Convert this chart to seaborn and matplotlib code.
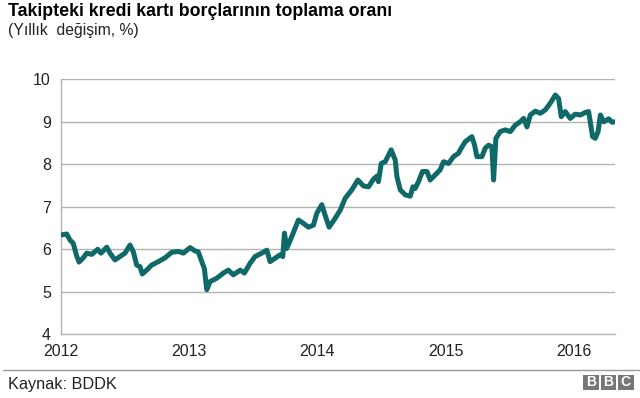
import numpy as np
import pandas as pd
import seaborn as sns
import matplotlib.pyplot as plt
from matplotlib.patches import Rectangle

# Weekly-ish readings of the series, x in decimal years
years = [
    2012.008, 2012.047, 2012.072, 2012.098, 2012.125, 2012.143, 2012.176, 2012.203,
    2012.242, 2012.288, 2012.314, 2012.359, 2012.384, 2012.423, 2012.462, 2012.501,
    2012.540, 2012.566, 2012.592, 2012.618, 2012.636, 2012.670, 2012.709, 2012.761,
    2012.813, 2012.865, 2012.917, 2012.956, 2013.008, 2013.047, 2013.072, 2013.099,
    2013.119, 2013.138, 2013.164, 2013.216, 2013.267, 2013.306, 2013.345, 2013.398,
    2013.431, 2013.475, 2013.514, 2013.567, 2013.606, 2013.631, 2013.670, 2013.709,
    2013.730, 2013.743, 2013.761, 2013.800, 2013.852, 2013.891, 2013.930, 2013.969,
    2013.995, 2014.034, 2014.060, 2014.091, 2014.138, 2014.177, 2014.216, 2014.268,
    2014.315, 2014.359, 2014.398, 2014.436, 2014.463, 2014.475, 2014.497, 2014.528,
    2014.541, 2014.574, 2014.606, 2014.619, 2014.645, 2014.684, 2014.723, 2014.744,
    2014.761, 2014.787, 2014.818, 2014.853, 2014.878, 2014.917, 2014.956, 2014.982,
    2015.021, 2015.060, 2015.099, 2015.112, 2015.151, 2015.203, 2015.224, 2015.242,
    2015.281, 2015.307, 2015.333, 2015.359, 2015.372, 2015.390, 2015.424, 2015.463,
    2015.502, 2015.541, 2015.580, 2015.606, 2015.632, 2015.658, 2015.697, 2015.736,
    2015.775, 2015.814, 2015.853, 2015.878, 2015.899, 2015.930, 2015.969, 2016.008,
    2016.048, 2016.087, 2016.112, 2016.125, 2016.143, 2016.164, 2016.186, 2016.204,
    2016.230, 2016.269, 2016.295, 2016.320,
]
rates = [
    6.34, 6.36, 6.22, 6.14, 5.84, 5.70, 5.80, 5.91,
    5.88, 6.00, 5.91, 6.05, 5.91, 5.75, 5.83, 5.91,
    6.10, 5.94, 5.63, 5.59, 5.42, 5.51, 5.63, 5.71,
    5.80, 5.93, 5.95, 5.91, 6.04, 5.96, 5.94, 5.71,
    5.55, 5.05, 5.24, 5.32, 5.44, 5.51, 5.40, 5.51,
    5.44, 5.67, 5.83, 5.91, 5.98, 5.71, 5.79, 5.87,
    5.83, 6.38, 6.02, 6.30, 6.69, 6.61, 6.52, 6.57,
    6.85, 7.05, 6.80, 6.52, 6.73, 6.92, 7.20, 7.40,
    7.63, 7.49, 7.47, 7.65, 7.72, 7.59, 8.02, 8.06,
    8.14, 8.34, 8.10, 7.71, 7.40, 7.28, 7.25, 7.47,
    7.43, 7.59, 7.83, 7.83, 7.63, 7.75, 7.87, 8.06,
    8.02, 8.18, 8.26, 8.34, 8.53, 8.65, 8.45, 8.18,
    8.18, 8.38, 8.45, 8.41, 7.63, 8.61, 8.77, 8.81,
    8.77, 8.92, 9.00, 9.08, 8.88, 9.16, 9.25, 9.20,
    9.28, 9.44, 9.63, 9.55, 9.12, 9.24, 9.08, 9.18,
    9.16, 9.22, 9.24, 9.00, 8.65, 8.61, 8.77, 9.16,
    9.00, 9.07, 8.99, 9.00,
]
year_ticks = [2012, 2013, 2014, 2015, 2016]
value_ticks = [4, 5, 6, 7, 8, 9, 10]

title = "Takipteki kredi kartı borçlarının toplama oranı"
subtitle = "(Yıllık  değişim, %)"
source = "Kaynak: BDDK"

df = pd.DataFrame({"year": years, "rate": rates})

sns.set_style("white")
plt.rcParams['font.family'] = ['Liberation Sans', 'DejaVu Sans']

fig = plt.figure(figsize=(6.4, 3.98), dpi=100)
ax = fig.add_axes([0.0948, 0.160, 0.8666, 0.6408])

grey = "#b3b3b3"
for v in value_ticks[1:]:
    ax.axhline(v, color=grey, lw=1.0, zorder=1)

sns.lineplot(data=df, x="year", y="rate", ax=ax, color="#0f6969",
             lw=3.6, zorder=3, sort=False,
             solid_joinstyle="round", solid_capstyle="round")

ax.set_xlim(2012, 2016.32)
ax.set_ylim(4, 10)
ax.set_xticks(year_ticks)
ax.set_yticks(value_ticks)
ax.set_xlabel("")
ax.set_ylabel("")
ax.tick_params(axis="both", direction="out", length=4, width=1, color=grey,
               labelsize=11.5, labelcolor="#222222", pad=3)
for s in ["top", "right"]:
    ax.spines[s].set_visible(False)
for s in ["left", "bottom"]:
    ax.spines[s].set_color(grey)
    ax.spines[s].set_linewidth(1.0)

fig.text(8 / 640, 1 - 12 / 398, title, fontsize=12.8, fontweight="bold",
         ha="left", va="center", color="#000000")
fig.text(8 / 640, 1 - 31 / 398, subtitle, fontsize=11.3,
         ha="left", va="center", color="#222222")

# footer rule, source and logo
fig.add_artist(plt.Line2D([3 / 640, 1], [1 - 369.5 / 398] * 2,
                          color="#9a9a9a", lw=1.0))
fig.text(8 / 640, 1 - 385 / 398, source, fontsize=11.7,
         ha="left", va="center", color="#222222")
for i, letter in enumerate("BBC"):
    x0 = (583 + i * 17.5) / 640
    fig.add_artist(Rectangle((x0, 1 - 390 / 398), 15.5 / 640, 15.5 / 398,
                             transform=fig.transFigure, color="#777777", lw=0))
    fig.text(x0 + 7.75 / 640, 1 - 382.2 / 398, letter, fontsize=10,
             fontweight="bold", ha="center", va="center", color="white")

fig.savefig("out.png", dpi=100)
